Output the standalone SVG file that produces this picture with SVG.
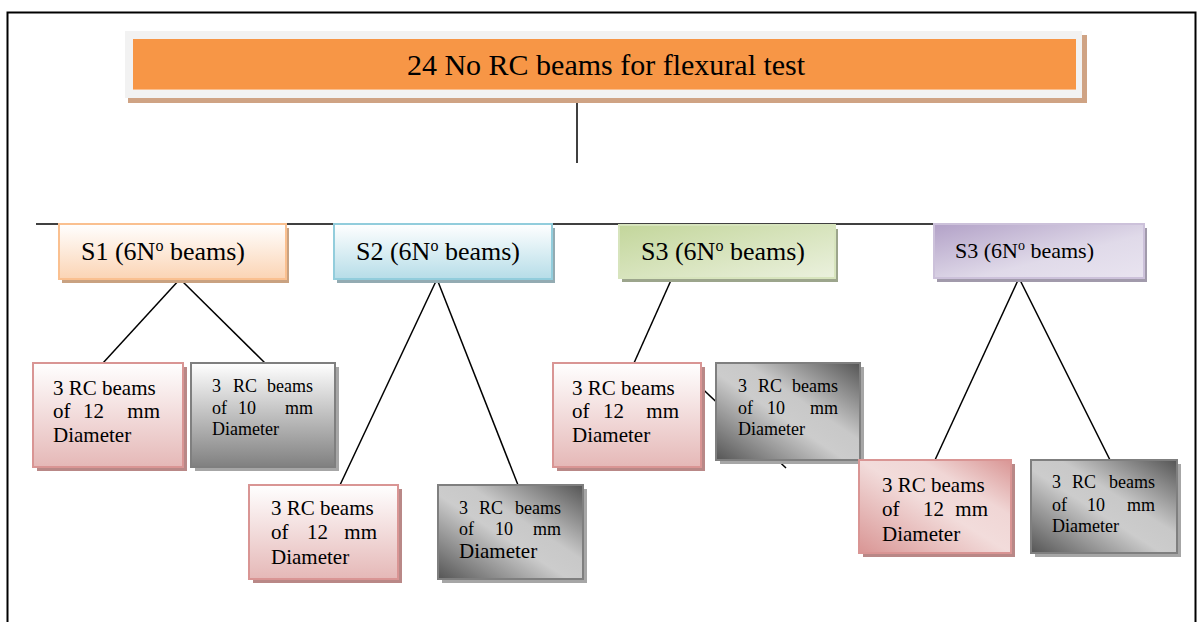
<svg xmlns="http://www.w3.org/2000/svg" width="1197" height="622" viewBox="0 0 1197 622">
  <defs>
    <linearGradient id="gPeach" x1="0" y1="0" x2="0" y2="1">
      <stop offset="0" stop-color="#FFFFFF"/>
      <stop offset="1" stop-color="#FBD4B4"/>
    </linearGradient>
    <linearGradient id="gBlue" x1="0" y1="0" x2="0" y2="1">
      <stop offset="0" stop-color="#FFFFFF"/>
      <stop offset="1" stop-color="#B6DDE8"/>
    </linearGradient>
    <linearGradient id="gGreen" x1="0" y1="0" x2="1" y2="1">
      <stop offset="0" stop-color="#C3D69B"/>
      <stop offset="1" stop-color="#EBF1DE"/>
    </linearGradient>
    <linearGradient id="gPurple" x1="0" y1="0" x2="1" y2="1">
      <stop offset="0" stop-color="#B2A1C7"/>
      <stop offset="0.6" stop-color="#E0DAE9"/>
      <stop offset="1" stop-color="#E9E4F0"/>
    </linearGradient>
    <linearGradient id="gPink" x1="0" y1="0" x2="0" y2="1">
      <stop offset="0" stop-color="#FFFFFF"/>
      <stop offset="1" stop-color="#E5B8B7"/>
    </linearGradient>
    <linearGradient id="gPinkDiag" x1="0" y1="1" x2="1" y2="0">
      <stop offset="0" stop-color="#D99594"/>
      <stop offset="0.5" stop-color="#F2DCDB"/>
      <stop offset="0.7" stop-color="#F0D6D5"/>
      <stop offset="1" stop-color="#D99594"/>
    </linearGradient>
    <linearGradient id="gGrey" x1="0" y1="0" x2="0" y2="1">
      <stop offset="0" stop-color="#FFFFFF"/>
      <stop offset="1" stop-color="#808080"/>
    </linearGradient>
    <linearGradient id="gGreyDiag" x1="0" y1="1" x2="1" y2="0">
      <stop offset="0" stop-color="#555555"/>
      <stop offset="0.45" stop-color="#CCCCCC"/>
      <stop offset="0.6" stop-color="#C8C8C8"/>
      <stop offset="1" stop-color="#555555"/>
    </linearGradient>
    <style>
      .title { font-size: 30px; }
      .hdr { font-size: 26px; }
      .hdr-s { font-size: 22px; }
      .big { font-size: 21px; }
      .small { font-size: 18px; }
      .end { text-anchor: end; }
      .wire { stroke: #000; stroke-width: 1.5; fill: none; }
      .frame { stroke: #000; stroke-width: 2; fill: none; }
      .pink { fill: url(#gPink); stroke: #D99594; stroke-width: 2; }
      .pinkd { fill: url(#gPinkDiag); stroke: #D99594; stroke-width: 2; }
      .grey { fill: url(#gGrey); stroke: #7F7F7F; stroke-width: 2; }
      .greyd { fill: url(#gGreyDiag); stroke: #7F7F7F; stroke-width: 2; }
      .shd-pink { fill: #B98887; }
      .shd-grey { fill: #A6A6A6; }
    </style>
  </defs>

  <!-- page frame (open at the bottom) -->
  <path class="frame" d="M7.5,622 V12.5 H1195.5 V622"/>

  <!-- connectors -->
  <g id="connectors">
    <line class="wire" x1="577" y1="98" x2="577" y2="163"/>
    <line class="wire" x1="36" y1="224" x2="1145" y2="224"/>
    <line class="wire" x1="180" y1="279" x2="103" y2="363"/>
    <line class="wire" x1="180" y1="279" x2="265" y2="363"/>
    <line class="wire" x1="437" y1="279" x2="340" y2="485"/>
    <line class="wire" x1="437" y1="279" x2="518" y2="485"/>
    <line class="wire" x1="672" y1="278" x2="634" y2="363"/>
    <line class="wire" x1="690" y1="377" x2="786" y2="468"/>
    <line class="wire" x1="1019" y1="278" x2="935" y2="460"/>
    <line class="wire" x1="1019" y1="278" x2="1110" y2="460"/>
  </g>

  <g font-family="'Liberation Serif', 'Times New Roman', Times, serif" fill="#000">
  <!-- root -->
  <g id="root">
    <rect x="128" y="35" width="959" height="68" fill="#CFA384"/>
    <rect x="125" y="31" width="957" height="67" fill="#F2F2F2"/>
    <rect x="133" y="39" width="943" height="51" fill="#F79646"/>
    <line x1="133" y1="89.5" x2="1076" y2="89.5" stroke="#FAC090" stroke-width="1"/>
    <text class="title" x="606" y="75" text-anchor="middle">24 No RC beams for flexural test</text>
  </g>

  <!-- series headers -->
  <g id="s1">
    <rect x="62" y="228" width="227" height="55" fill="#C9A281"/>
    <rect x="59" y="224" width="227" height="55" fill="url(#gPeach)" stroke="#FAC090" stroke-width="2"/>
    <text class="hdr" x="81" y="260">S1 (6N<tspan dy="-9" font-size="16">o</tspan><tspan dy="9"> beams)</tspan></text>
  </g>
  <g id="s2">
    <rect x="337" y="228" width="218" height="55" fill="#93ABB2"/>
    <rect x="334" y="224" width="218" height="55" fill="url(#gBlue)" stroke="#92CDDC" stroke-width="2"/>
    <text class="hdr" x="356" y="260">S2 (6N<tspan dy="-9" font-size="16">o</tspan><tspan dy="9"> beams)</tspan></text>
  </g>
  <g id="s3">
    <rect x="622" y="229" width="216" height="53" fill="#9CA58C"/>
    <rect x="619" y="225" width="216" height="53" fill="url(#gGreen)" stroke="#D7E4BD" stroke-width="2"/>
    <text class="hdr" x="641" y="260">S3 (6N<tspan dy="-9" font-size="16">o</tspan><tspan dy="9"> beams)</tspan></text>
  </g>
  <g id="s4">
    <rect x="937" y="228" width="210" height="54" fill="#A19AAB"/>
    <rect x="934" y="224" width="210" height="54" fill="url(#gPurple)" stroke="#CCC1DA" stroke-width="2"/>
    <text class="hdr-s" x="955" y="258">S3 (6N<tspan dy="-8" font-size="14">o</tspan><tspan dy="8"> beams)</tspan></text>
  </g>

  <!-- S1 leaves -->
  <g id="s1-12mm">
    <rect class="shd-pink" x="37" y="367" width="150" height="104"/>
    <rect class="pink" x="33" y="363" width="150" height="104"/>
    <text class="big" x="53" y="395">3 RC beams</text>
    <text class="big" y="418"><tspan x="53">of</tspan><tspan x="83">12</tspan><tspan x="160" class="end">mm</tspan></text>
    <text class="big" x="53" y="442">Diameter</text>
  </g>
  <g id="s1-10mm">
    <rect class="shd-grey" x="195" y="367" width="144" height="104"/>
    <rect class="grey" x="191" y="363" width="144" height="104"/>
    <text class="small" y="392"><tspan x="212">3</tspan><tspan x="233">RC</tspan><tspan x="313" class="end">beams</tspan></text>
    <text class="small" y="414"><tspan x="212">of</tspan><tspan x="238">10</tspan><tspan x="313" class="end">mm</tspan></text>
    <text class="small" x="212" y="435">Diameter</text>
  </g>

  <!-- S2 leaves -->
  <g id="s2-12mm">
    <rect class="shd-pink" x="253" y="489" width="149" height="94"/>
    <rect class="pink" x="249" y="485" width="149" height="94"/>
    <text class="big" x="271" y="515">3 RC beams</text>
    <text class="big" y="539"><tspan x="271">of</tspan><tspan x="307">12</tspan><tspan x="377" class="end">mm</tspan></text>
    <text class="big" x="271" y="564">Diameter</text>
  </g>
  <g id="s2-10mm">
    <rect class="shd-grey" x="442" y="489" width="145" height="94"/>
    <rect class="greyd" x="438" y="485" width="145" height="94"/>
    <text class="small" y="514"><tspan x="459">3</tspan><tspan x="479">RC</tspan><tspan x="561" class="end">beams</tspan></text>
    <text class="small" y="535"><tspan x="459">of</tspan><tspan x="495">10</tspan><tspan x="561" class="end">mm</tspan></text>
    <text class="big" x="459" y="558">Diameter</text>
  </g>

  <!-- S3 leaves -->
  <g id="s3-12mm">
    <rect class="shd-pink" x="557" y="367" width="148" height="104"/>
    <rect class="pink" x="553" y="363" width="148" height="104"/>
    <text class="big" x="572" y="395">3 RC beams</text>
    <text class="big" y="418"><tspan x="572">of</tspan><tspan x="603">12</tspan><tspan x="679" class="end">mm</tspan></text>
    <text class="big" x="572" y="442">Diameter</text>
  </g>
  <g id="s3-10mm">
    <rect class="shd-grey" x="720" y="367" width="144" height="97"/>
    <rect class="greyd" x="716" y="363" width="144" height="97"/>
    <text class="small" y="392"><tspan x="738">3</tspan><tspan x="758">RC</tspan><tspan x="838" class="end">beams</tspan></text>
    <text class="small" y="414"><tspan x="738">of</tspan><tspan x="767">10</tspan><tspan x="838" class="end">mm</tspan></text>
    <text class="small" x="738" y="435">Diameter</text>
  </g>

  <!-- S4 leaves -->
  <g id="s4-12mm">
    <rect class="shd-pink" x="863" y="464" width="152" height="93"/>
    <rect class="pinkd" x="859" y="460" width="152" height="93"/>
    <text class="big" x="882" y="492">3 RC beams</text>
    <text class="big" y="516"><tspan x="882">of</tspan><tspan x="923">12</tspan><tspan x="988" class="end">mm</tspan></text>
    <text class="big" x="882" y="541">Diameter</text>
  </g>
  <g id="s4-10mm">
    <rect class="shd-grey" x="1035" y="464" width="146" height="93"/>
    <rect class="greyd" x="1031" y="460" width="146" height="93"/>
    <text class="small" y="488"><tspan x="1052">3</tspan><tspan x="1072">RC</tspan><tspan x="1155" class="end">beams</tspan></text>
    <text class="small" y="511"><tspan x="1052">of</tspan><tspan x="1087">10</tspan><tspan x="1155" class="end">mm</tspan></text>
    <text class="small" x="1052" y="532">Diameter</text>
  </g>
  </g>
</svg>
